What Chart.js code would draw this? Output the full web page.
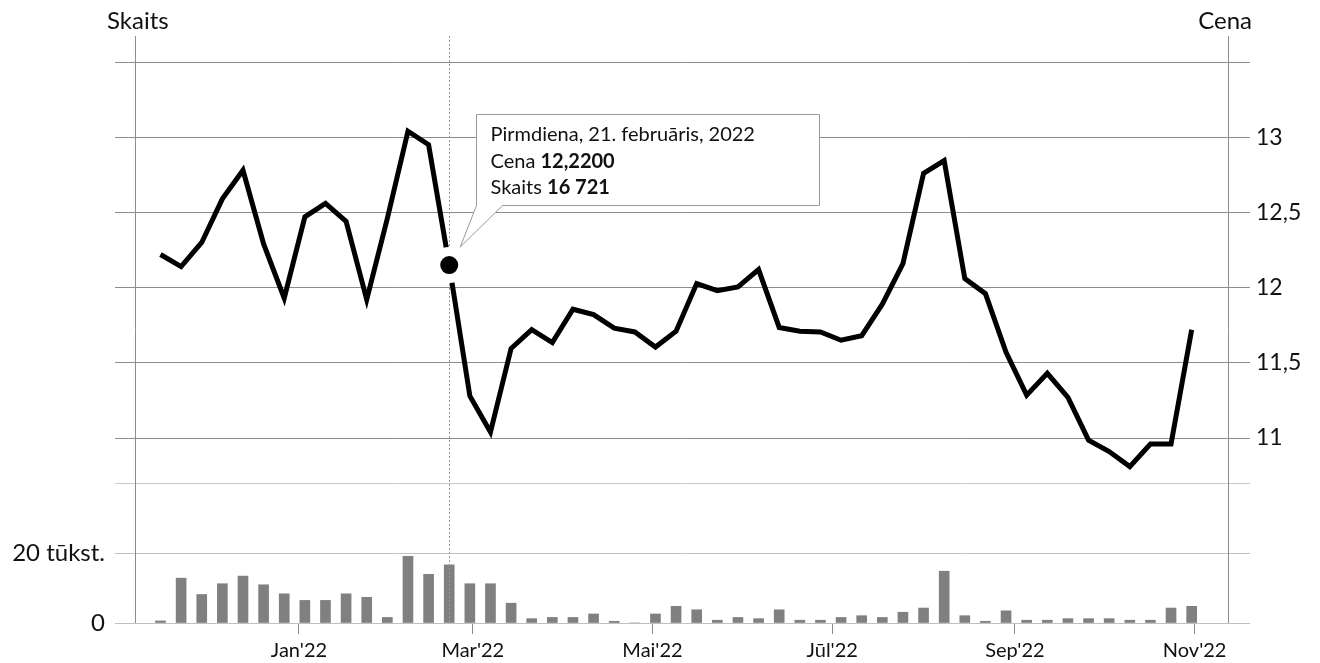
<!DOCTYPE html>
<html lang="lv">
<head>
<meta charset="utf-8">
<title>Cena un skaits</title>
<script src="https://cdn.jsdelivr.net/npm/chart.js@4.4.1/dist/chart.umd.min.js"></script>
<style>
    html, body { margin: 0; padding: 0; background: #fff; }
    #wrap { width: 1320px; height: 663px; }
</style>
</head>
<body>
<div id="wrap"><canvas id="priceChart" width="1320" height="663"></canvas></div>
<script>
// weekly points (Monday of each week)
const weekDates = [
    '2021-11-15', '2021-11-22', '2021-11-29', '2021-12-06', '2021-12-13', '2021-12-20', '2021-12-27',
    '2022-01-03', '2022-01-10', '2022-01-17', '2022-01-24', '2022-01-31', '2022-02-07', '2022-02-14',
    '2022-02-21', '2022-02-28', '2022-03-07', '2022-03-14', '2022-03-21', '2022-03-28', '2022-04-04',
    '2022-04-11', '2022-04-18', '2022-04-25', '2022-05-02', '2022-05-09', '2022-05-16', '2022-05-23',
    '2022-05-30', '2022-06-06', '2022-06-13', '2022-06-20', '2022-06-27', '2022-07-04', '2022-07-11',
    '2022-07-18', '2022-07-25', '2022-08-01', '2022-08-08', '2022-08-15', '2022-08-22', '2022-08-29',
    '2022-09-05', '2022-09-12', '2022-09-19', '2022-09-26', '2022-10-03', '2022-10-10', '2022-10-17',
    '2022-10-24', '2022-10-31'
];

const price = [
    12.22, 12.14, 12.30, 12.59, 12.78, 12.29, 11.93, 12.47, 12.56, 12.44, 11.92, 12.46, 13.04, 12.95, 12.15,
    11.28, 11.04, 11.595, 11.72, 11.635, 11.856, 11.82, 11.73, 11.705, 11.605, 11.71, 12.027, 11.98, 12.004, 12.12,
    11.735, 11.71, 11.705, 11.65, 11.68, 11.89, 12.16, 12.76, 12.845, 12.06, 11.96, 11.57, 11.285, 11.43, 11.27,
    10.986, 10.91, 10.81, 10.96, 10.96, 11.72
];

const volume = [
    600, 12900, 8200, 11300, 13500, 11000, 8400, 6500, 6500, 8400, 7400, 1600, 19200, 14000, 16721,
    11300, 11300, 5700, 1250, 1600, 1600, 2600, 500, 0, 2600, 4800, 3800, 800, 1600, 1250,
    3800, 800, 800, 1600, 2100, 1600, 3100, 4300, 14900, 2100, 500, 3500, 800, 800, 1250,
    1250, 1250, 800, 800, 4300, 4800
];

const monthTickDates  = ['2022-01-01', '2022-03-01', '2022-05-01', '2022-07-01', '2022-09-01', '2022-11-01'];
const monthTickLabels = ["Jan'22", "Mar'22", "Mai'22", "Jūl'22", "Sep'22", "Nov'22"];

const priceGrid       = [10.7, 11, 11.5, 12, 12.5, 13, 13.5];
const priceTickLabels = ['', '11', '11,5', '12', '12,5', '13', ''];
const volumeGrid       = [0, 20000];
const volumeTickLabels = ['0', '20 tūkst.'];

const markIndex    = 14;
const calloutTitle = 'Pirmdiena, 21. februāris, 2022';
const calloutRows  = [['Cena ', '12,2200'], ['Skaits ', '16 721']];

document.addEventListener('DOMContentLoaded', function () {

    const FONT = 'Lato';
    const dayOf = s => (Date.parse(s) - Date.parse(weekDates[0])) / 86400000;
    const days  = weekDates.map(dayOf);

    // =========================================================
    // 1. OVERLAY — frame lines, titles, cursor line, callout
    // =========================================================
    const overlay = {
        id: 'overlay',
        beforeDatasetsDraw(chart) {
            const { ctx, chartArea: a } = chart;
            ctx.save();
            ctx.strokeStyle = '#8c8c8c';
            ctx.lineWidth = 1;
            [Math.round(a.left + 20) + 0.5, Math.round(a.right - 22) + 0.5].forEach(x => {
                ctx.beginPath();
                ctx.moveTo(x, a.top - 26);
                ctx.lineTo(x, a.bottom);
                ctx.stroke();
            });
            ctx.fillStyle = '#111';
            ctx.font = '24px ' + FONT;
            ctx.textBaseline = 'alphabetic';
            ctx.textAlign = 'left';
            ctx.fillText('Skaits', 107, 29);
            ctx.textAlign = 'right';
            ctx.fillText('Cena', 1252, 29);
            ctx.restore();
        },
        beforeDatasetDraw(chart, args) {
            if (args.meta.type !== 'line') return;
            const { ctx, chartArea: a } = chart;
            const x = Math.round(chart.scales.x.getPixelForValue(days[markIndex])) + 0.5;
            ctx.save();
            ctx.strokeStyle = '#999';
            ctx.lineWidth = 1;
            ctx.setLineDash([2, 2]);
            ctx.beginPath();
            ctx.moveTo(x, a.top - 26);
            ctx.lineTo(x, a.bottom);
            ctx.stroke();
            ctx.restore();
        },
        afterDatasetsDraw(chart) {
            const { ctx } = chart;
            const meta = chart.getSortedVisibleDatasetMetas().find(m => m.type === 'line');
            const pt = meta.data[markIndex];
            const bx = Math.round(pt.x + 27) + 0.5;
            const by = Math.round(pt.y - 151) + 0.5;
            const bw = 343, bh = 91;

            ctx.save();
            ctx.beginPath();
            ctx.moveTo(bx, by);
            ctx.lineTo(bx + bw, by);
            ctx.lineTo(bx + bw, by + bh);
            ctx.lineTo(bx + 26, by + bh);
            ctx.lineTo(pt.x + 11, pt.y - 18);
            ctx.lineTo(bx, by + bh);
            ctx.closePath();
            ctx.fillStyle = '#fff';
            ctx.fill();
            ctx.strokeStyle = '#999';
            ctx.lineWidth = 1;
            ctx.stroke();

            ctx.fillStyle = '#111';
            ctx.textAlign = 'left';
            ctx.textBaseline = 'alphabetic';
            ctx.font = '20px ' + FONT;
            ctx.fillText(calloutTitle, bx + 14, by + 26);
            calloutRows.forEach((row, i) => {
                const y = by + 53 + i * 26.5;
                ctx.font = '20px ' + FONT;
                ctx.fillText(row[0], bx + 14, y);
                const w = ctx.measureText(row[0]).width;
                ctx.font = 'bold 20px ' + FONT;
                ctx.fillText(row[1], bx + 14 + w, y);
            });
            ctx.restore();
        }
    };

    // =========================================================
    // 2. CHART — Bar (Skaits) + Line (Cena)
    // =========================================================
    new Chart(document.getElementById('priceChart'), {
        type: 'bar',
        data: {
            datasets: [
                {
                    label: 'Skaits',
                    data: days.map((d, i) => ({ x: d, y: volume[i] })),
                    backgroundColor: '#808080',
                    borderWidth: 0,
                    barThickness: 10,
                    yAxisID: 'yVol',
                    order: 2,
                },
                {
                    label: 'Cena',
                    type: 'line',
                    data: days.map((d, i) => ({ x: d, y: price[i] })),
                    borderColor: '#000',
                    borderWidth: 5,
                    borderJoinStyle: 'miter',
                    tension: 0,
                    fill: false,
                    pointRadius: ctx => ctx.dataIndex === markIndex ? 13.5 : 0,
                    pointBackgroundColor: '#000',
                    pointBorderColor: '#fff',
                    pointBorderWidth: 9,
                    yAxisID: 'yPrice',
                    order: 1,
                }
            ]
        },
        options: {
            responsive: false,
            animation: false,
            events: [],
            layout: { padding: { top: 62, left: 0, right: 0, bottom: 0 } },
            plugins: {
                legend: { display: false },
                tooltip: { enabled: false },
            },
            scales: {
                x: {
                    type: 'linear',
                    min: -15.44,
                    max: 369.8,
                    offset: false,
                    border: { display: false },
                    grid: {
                        offset: false,
                        drawOnChartArea: false,
                        drawTicks: true,
                        tickLength: 11,
                        color: '#8c8c8c',
                    },
                    afterBuildTicks: scale => {
                        scale.ticks = monthTickDates.map(d => ({ value: dayOf(d) }));
                    },
                    afterFit: scale => { scale.height = 40; },
                    ticks: {
                        autoSkip: false,
                        maxRotation: 0,
                        padding: 5,
                        font: { family: FONT, size: 20 },
                        color: '#111',
                        callback: (val, i) => monthTickLabels[i],
                    }
                },
                yPrice: {
                    type: 'linear',
                    position: 'right',
                    min: 9.77,
                    max: 13.5,
                    border: { display: false },
                    grid: {
                        drawTicks: false,
                        color: ctx => (ctx.tick && ctx.tick.value < 10.9) ? '#c8c8c8' : '#8c8c8c',
                    },
                    afterBuildTicks: scale => {
                        scale.ticks = priceGrid.map(v => ({ value: v }));
                    },
                    afterFit: scale => { scale.width = 70; },
                    ticks: {
                        padding: 6,
                        font: { family: FONT, size: 23 },
                        color: '#111',
                        callback: (val, i) => priceTickLabels[i],
                    }
                },
                yVol: {
                    type: 'linear',
                    position: 'left',
                    min: 0,
                    max: 161400,
                    border: { display: false },
                    grid: {
                        drawTicks: false,
                        color: '#c0c0c0',
                    },
                    afterBuildTicks: scale => {
                        scale.ticks = volumeGrid.map(v => ({ value: v }));
                    },
                    afterFit: scale => { scale.width = 115; },
                    ticks: {
                        padding: 10,
                        font: { family: FONT, size: 24 },
                        color: '#111',
                        callback: (val, i) => volumeTickLabels[i],
                    }
                }
            }
        },
        plugins: [overlay]
    });

});
</script>
</body>
</html>
